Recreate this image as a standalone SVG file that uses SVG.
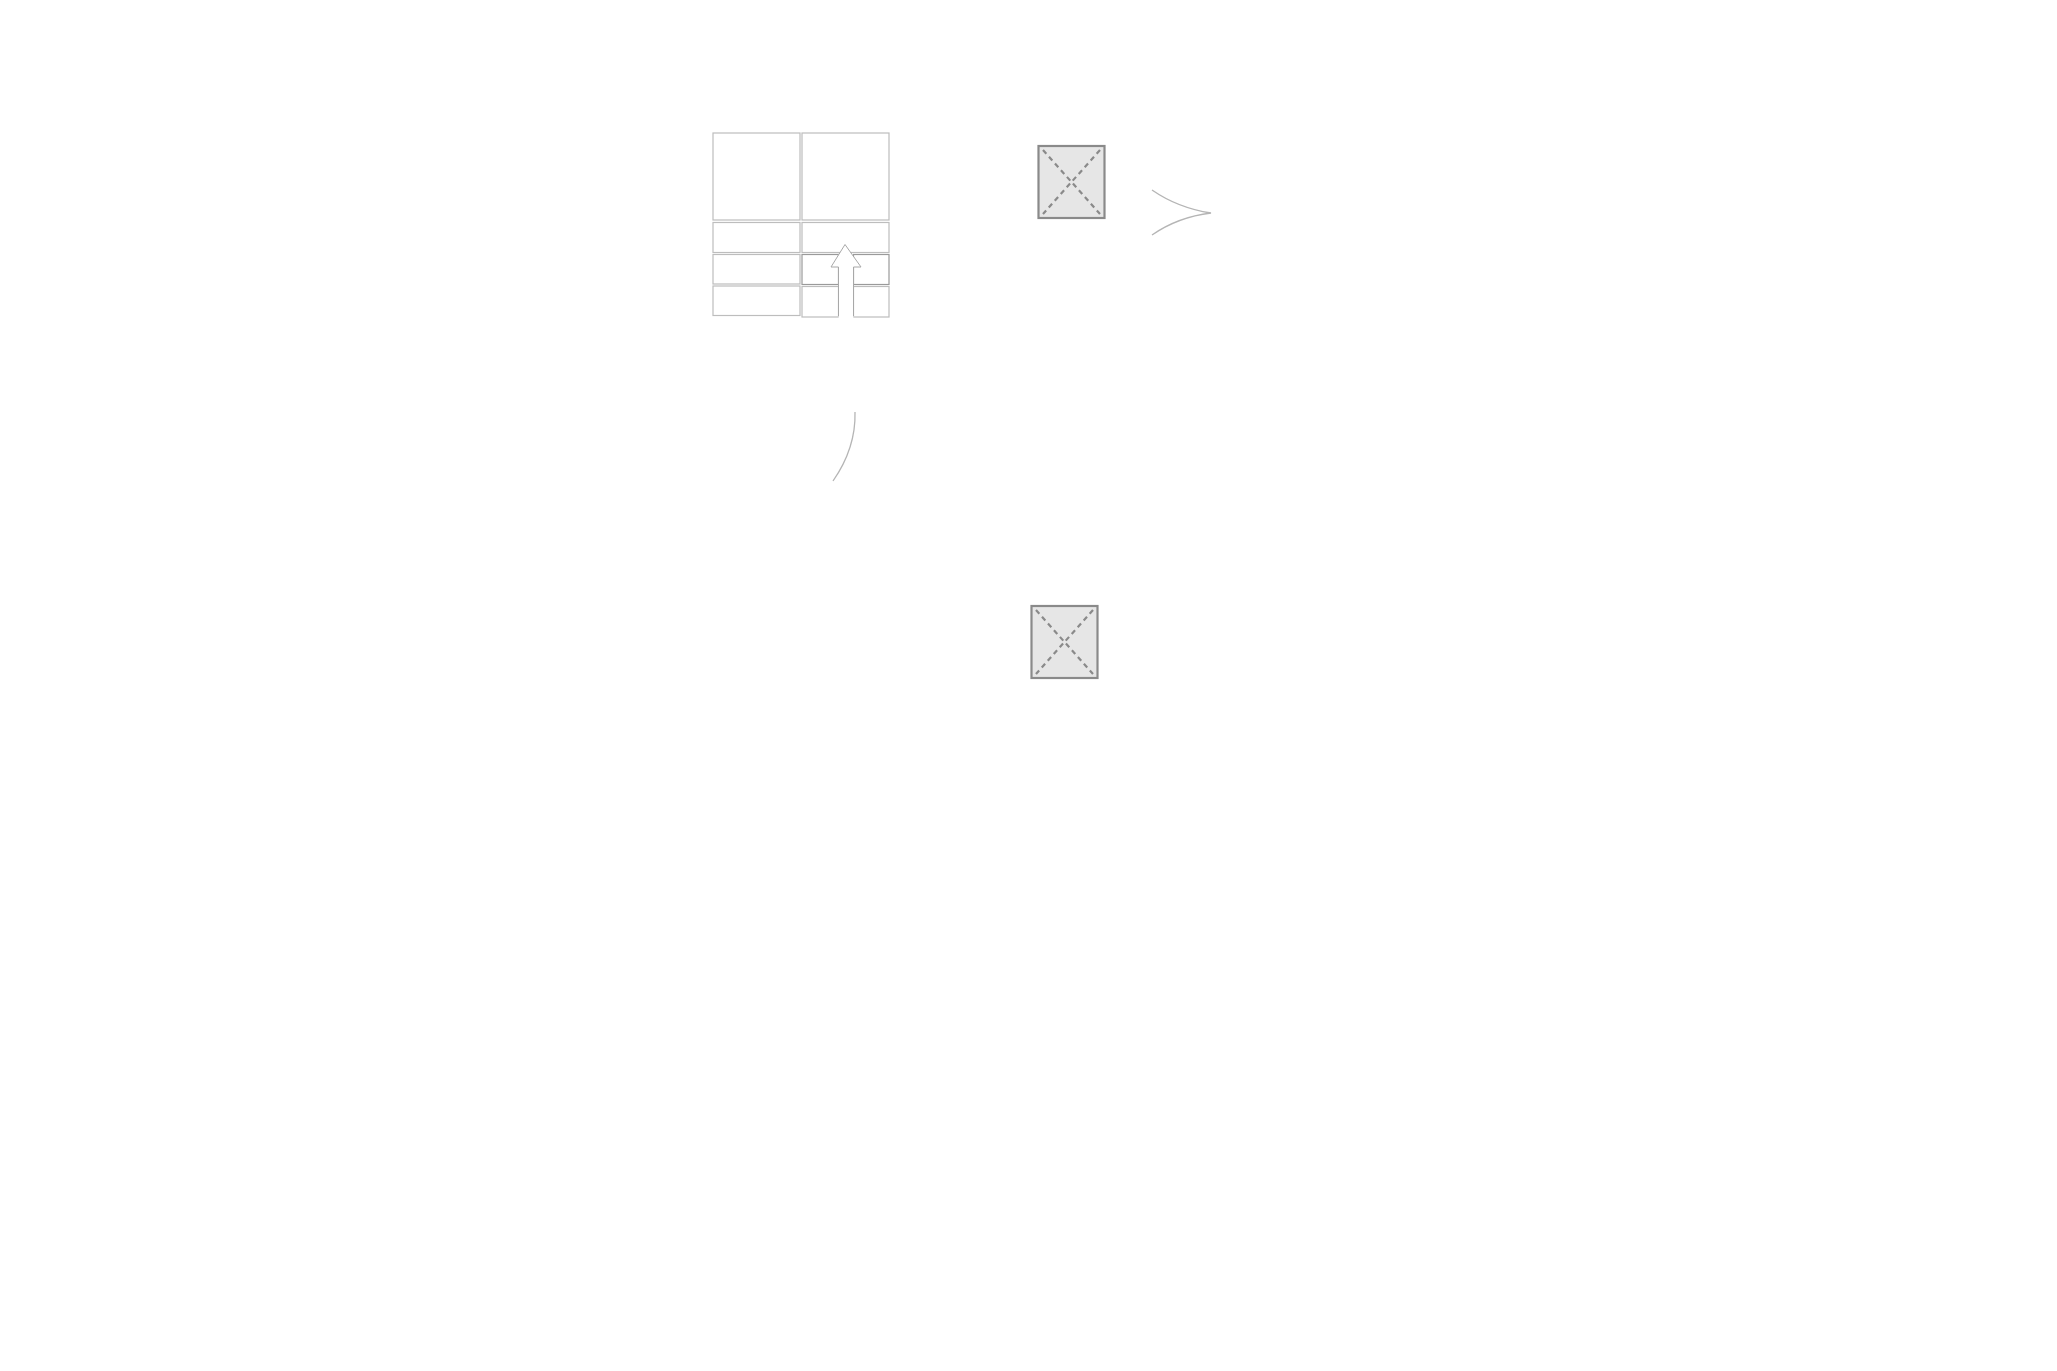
<svg xmlns="http://www.w3.org/2000/svg" width="2057" height="1371" viewBox="0 0 2057 1371">
<style>
.cell{fill:#fff;stroke:#bdbdbd;stroke-width:1.2}
.ph{fill:#e6e6e6;stroke:#8a8a8a;stroke-width:2.2}
.diag{stroke:#8a8a8a;stroke-width:2.2;stroke-dasharray:5 4;fill:none}
.conn{fill:none;stroke:#b5b5b5;stroke-width:1.3}
</style>
<rect width="2057" height="1371" fill="#fff"/>
<g id="grid">
<rect class="cell" x="713" y="133" width="87" height="87"/>
<rect class="cell" x="802" y="133" width="87" height="87"/>
<rect class="cell" x="713" y="222.5" width="87" height="30"/>
<rect class="cell" x="802" y="222.5" width="87" height="30"/>
<rect class="cell" x="713" y="254.5" width="87" height="29.5"/>
<rect class="cell" x="802" y="254.5" width="36.5" height="30" style="stroke:#9a9a9a"/>
<rect class="cell" x="853.5" y="254.5" width="35.5" height="30" style="stroke:#9a9a9a"/>
<rect class="cell" x="713" y="286" width="87" height="29.5"/>
<rect class="cell" x="802" y="286.5" width="36.5" height="30.5"/>
<rect class="cell" x="853.5" y="286.5" width="35.5" height="30.5"/>
<polygon points="838.5,317 838.5,267 831,267 845,244.5 861,267 853.5,267 853.5,317" fill="#fff" stroke="#a8a8a8" stroke-width="1"/>
<line x1="838.5" y1="317" x2="853.5" y2="317" stroke="#fff" stroke-width="2"/>
</g>
<g id="placeholder1">
<rect class="ph" x="1038.5" y="146" width="66" height="72"/>
<line class="diag" x1="1043" y1="150" x2="1100" y2="214"/>
<line class="diag" x1="1100" y1="150" x2="1043" y2="214"/>
</g>
<g id="placeholder2">
<rect class="ph" x="1031.5" y="606" width="66" height="72"/>
<line class="diag" x1="1036" y1="610" x2="1093" y2="674"/>
<line class="diag" x1="1093" y1="610" x2="1036" y2="674"/>
</g>
<g id="connectors">
<path class="conn" d="M1152,190 Q1178,208 1211,213 Q1178,217 1152,235"/>
<path class="conn" d="M855,412 Q856,448 833,481"/>
</g>
</svg>
